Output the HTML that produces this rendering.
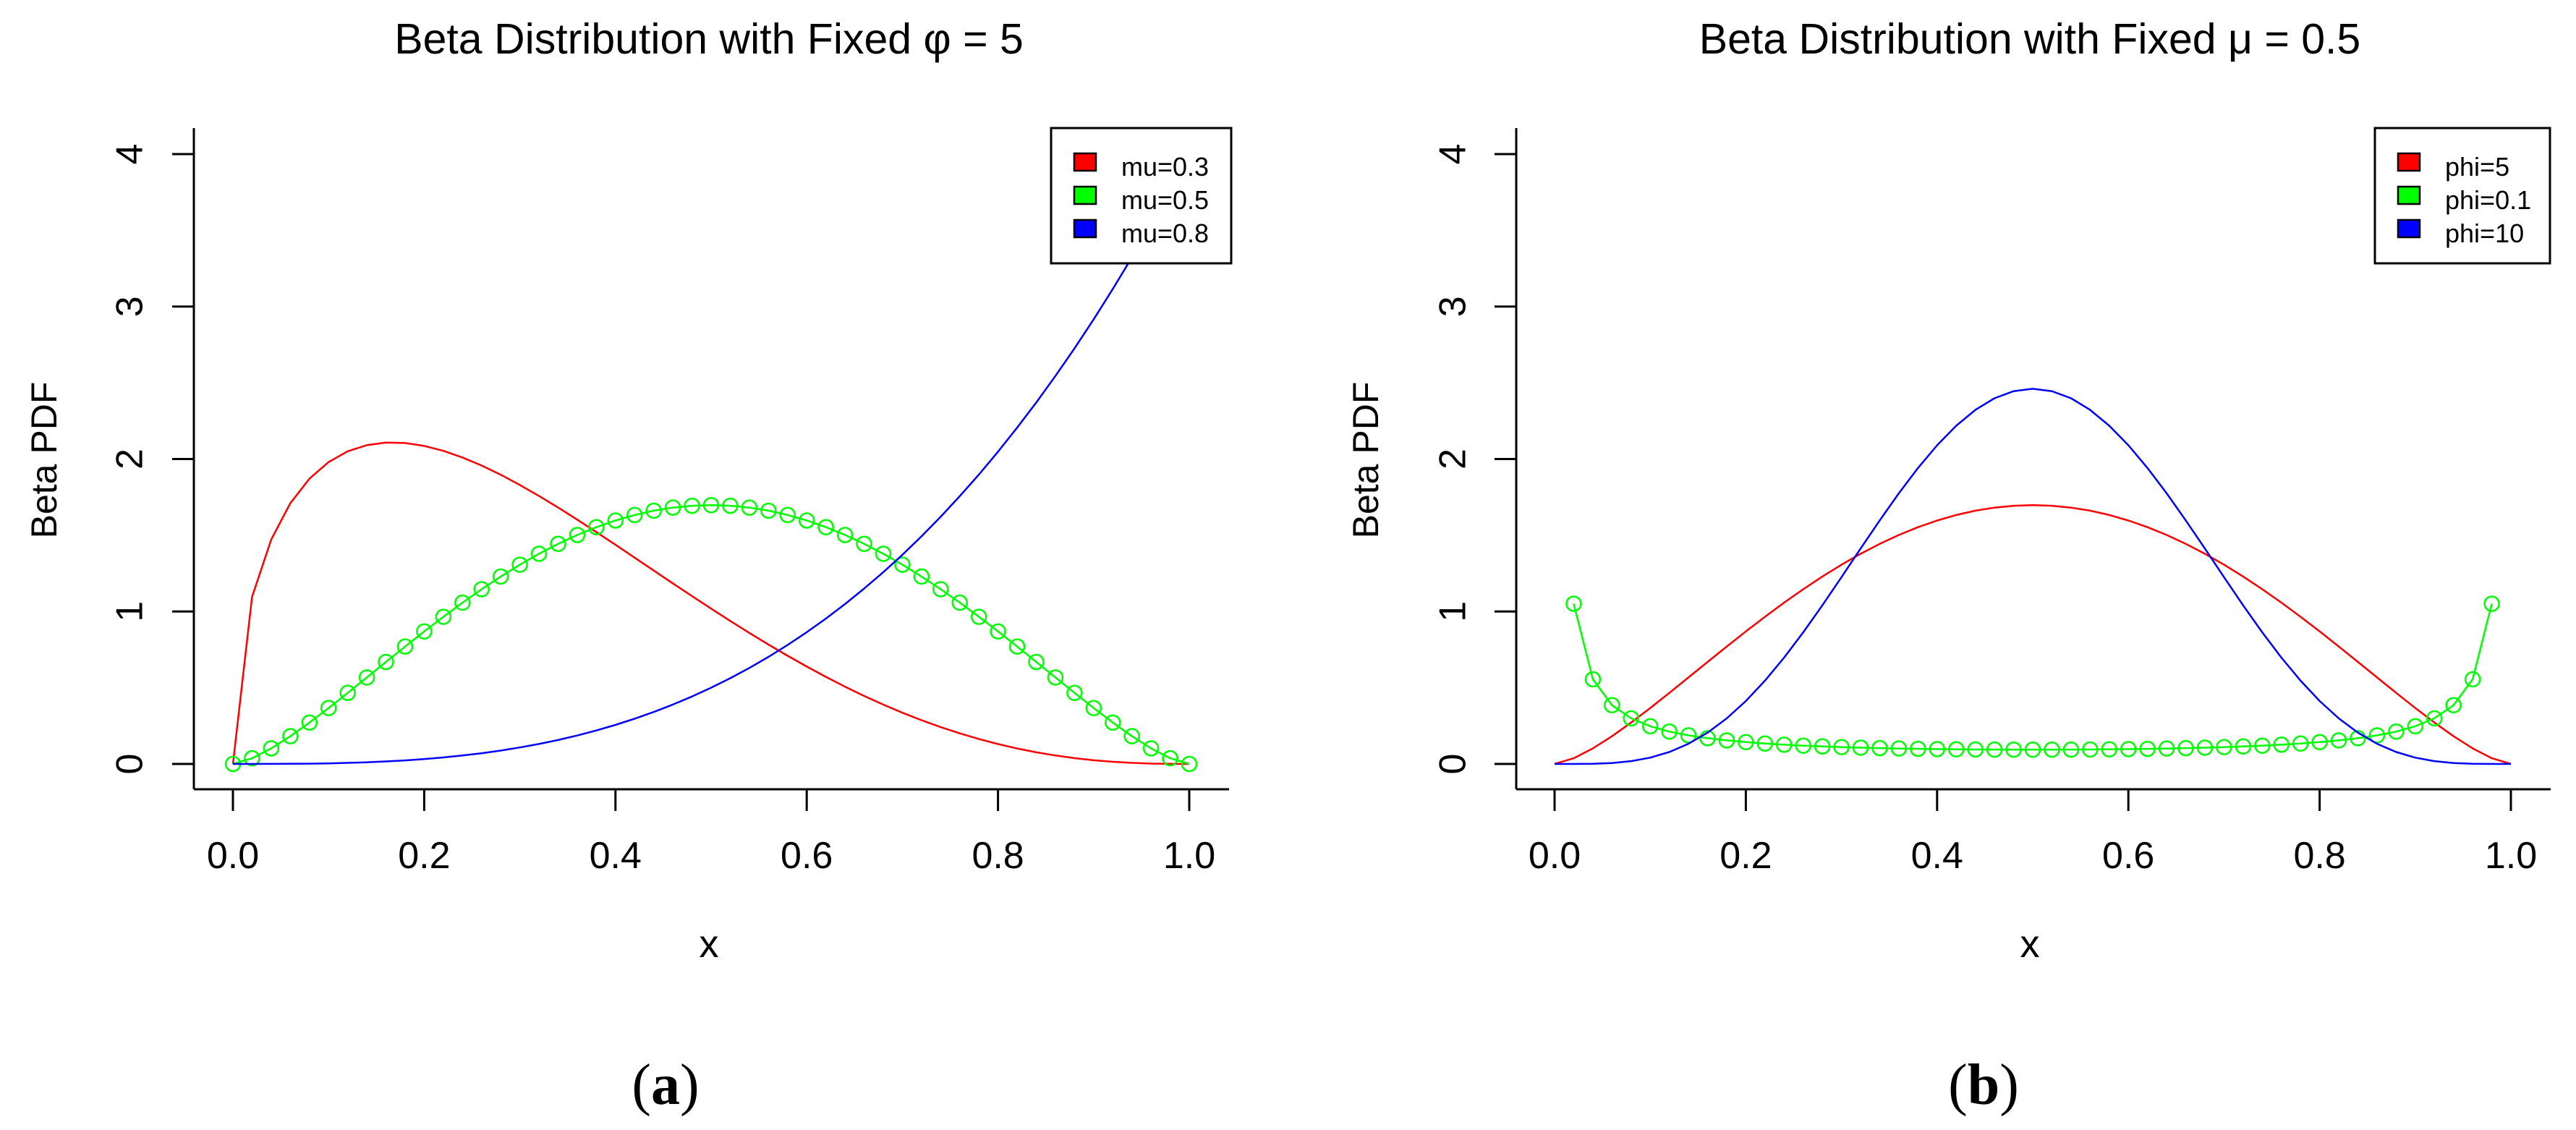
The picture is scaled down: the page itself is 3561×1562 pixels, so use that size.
<!DOCTYPE html>
<html><head><meta charset="utf-8"><style>
html,body{margin:0;padding:0;background:#fff;}
svg text{font-family:"Liberation Sans",Arial,sans-serif;}
</style></head><body>
<svg id="fig" width="3561" height="1557" viewBox="0 0 3561 1557" xmlns="http://www.w3.org/2000/svg">
<rect width="3561" height="1557" fill="#fff"/>
</svg>
<script>
const xs = [0,0.02,0.04,0.06,0.08,0.1,0.12,0.14,0.16,0.18,0.2,0.22,0.24,0.26,0.28,0.3,0.32,0.34,0.36,0.38,0.4,0.42,0.44,0.46,0.48,0.5,0.52,0.54,0.56,0.58,0.6,0.62,0.64,0.66,0.68,0.7,0.72,0.74,0.76,0.78,0.8,0.82,0.84,0.86,0.88,0.9,0.92,0.94,0.96,0.98,1];
// panel (a): phi = 5
const muRed = [0,1.0957,1.4717,1.7101,1.8712,1.9802,2.0507,2.0913,2.1080,2.1051,2.0861,2.0538,2.0102,1.9574,1.8968,1.8298,1.7577,1.6815,1.6022,1.5205,1.4372,1.3531,1.2685,1.1843,1.1009,1.0186,0.9380,0.8594,0.7831,0.7095,0.6387,0.5712,0.5069,0.4462,0.3893,0.3361,0.2869,0.2416,0.2005,0.1634,0.1304,0.1014,0.0765,0.0554,0.0381,0.0244,0.0142,0.0070,0.0026,0.0005,0];
const muGreen = [0,0.0373,0.1022,0.1819,0.2712,0.3667,0.4660,0.5673,0.6691,0.7701,0.8691,0.9653,1.0579,1.1461,1.2292,1.3069,1.3785,1.4436,1.5018,1.5530,1.5967,1.6327,1.6610,1.6812,1.6934,1.6975,1.6934,1.6812,1.6610,1.6327,1.5967,1.5530,1.5018,1.4436,1.3785,1.3069,1.2292,1.1461,1.0579,0.9653,0.8691,0.7701,0.6691,0.5673,0.4660,0.3667,0.2712,0.1819,0.1022,0.0373,0];
const muBlue = [0,0.000032,0.000256,0.000864,0.002048,0.004,0.006912,0.010976,0.016384,0.023328,0.032,0.042592,0.055296,0.070304,0.087808,0.108,0.131072,0.157216,0.186624,0.219488,0.256,0.296352,0.340736,0.389344,0.442368,0.5,0.562432,0.629856,0.702464,0.780448,0.864,0.953312,1.048576,1.149984,1.257728,1.372,1.492992,1.620896,1.755904,1.898208,2.048,2.205472,2.370816,2.544224,2.725888,2.916,3.114752,3.322336,3.538944,3.764768,4];
// panel (b): mu = 0.5
const phiRed = [0,0.0373,0.1022,0.1819,0.2712,0.3667,0.4660,0.5673,0.6691,0.7701,0.8691,0.9653,1.0579,1.1461,1.2292,1.3069,1.3785,1.4436,1.5018,1.5530,1.5967,1.6327,1.6610,1.6812,1.6934,1.6975,1.6934,1.6812,1.6610,1.6327,1.5967,1.5530,1.5018,1.4436,1.3785,1.3069,1.2292,1.1461,1.0579,0.9653,0.8691,0.7701,0.6691,0.5673,0.4660,0.3667,0.2712,0.1819,0.1022,0.0373,0];
const phiGreen = [null,1.051,0.5554,0.3855,0.2992,0.2472,0.2123,0.1875,0.1689,0.1545,0.1431,0.1339,0.1264,0.1201,0.1149,0.1105,0.1069,0.1038,0.1012,0.0991,0.0974,0.0960,0.0950,0.0942,0.0938,0.0937,0.0938,0.0942,0.0950,0.0960,0.0974,0.0991,0.1012,0.1038,0.1069,0.1105,0.1149,0.1201,0.1264,0.1339,0.1431,0.1545,0.1689,0.1875,0.2123,0.2472,0.2992,0.3855,0.5554,1.051,null];
const phiBlue = [0,0.0001,0.00137,0.00637,0.01849,0.04133,0.07834,0.13239,0.20556,0.29901,0.41288,0.54627,0.69733,0.86330,1.04065,1.22523,1.41246,1.59747,1.77530,1.94107,2.09019,2.21845,2.32222,2.39854,2.44523,2.46094,2.44523,2.39854,2.32222,2.21845,2.09019,1.94107,1.77530,1.59747,1.41246,1.22523,1.04065,0.86330,0.69733,0.54627,0.41288,0.29901,0.20556,0.13239,0.07834,0.04133,0.01849,0.00637,0.00137,0.0001,0];
const xTicks = [0,0.2,0.4,0.6,0.8,1];
const xTickLabels = ["0.0","0.2","0.4","0.6","0.8","1.0"];
const yTicks = [0,1,2,3,4];
const legendA = ["mu=0.3","mu=0.5","mu=0.8"];
const legendB = ["phi=5","phi=0.1","phi=10"];

const NS = "http://www.w3.org/2000/svg";
const svg = document.getElementById('fig');
function mk(tag, attrs, parent, text){
  const e = document.createElementNS(NS, tag);
  for (const k in attrs) e.setAttribute(k, attrs[k]);
  if (text !== undefined) e.textContent = text;
  (parent || svg).appendChild(e);
  return e;
}
function panel(o){
  const g = mk('g', {});
  
  
  const sx = v => o.x0 + v * (o.x1 - o.x0);
  const sy = v => o.y0 - v * (o.y0 - o.y4) / 4;
  const t = mk('text', {x:o.titleX, y:74, 'font-size':59, 'text-anchor':'middle', fill:'#000'}, g);
  
  
  t.innerHTML = o.title;
  const ya = mk('line', {x1:o.axL, y1:177, x2:o.axL, y2:1091, stroke:'#000', 'stroke-width':3}, g);
  
  
  const xa = mk('line', {x1:o.axL, y1:1091, x2:o.axR, y2:1091, stroke:'#000', 'stroke-width':3}, g);
  
  
  xTicks.forEach((v,i) => {
    const tk = mk('line', {x1:sx(v), y1:1091, x2:sx(v), y2:1121, stroke:'#000', 'stroke-width':3}, g);
    
    
    const tl = mk('text', {x:sx(v), y:1200, 'font-size':52, 'text-anchor':'middle', fill:'#000'}, g, xTickLabels[i]);
    
    
  });
  yTicks.forEach(v => {
    const tk = mk('line', {x1:o.axL - 30, y1:sy(v), x2:o.axL, y2:sy(v), stroke:'#000', 'stroke-width':3}, g);
    
    
    const tl = mk('text', {x:o.yLabX, y:sy(v), 'font-size':52, 'text-anchor':'middle', fill:'#000', transform:`rotate(-90 ${o.yLabX} ${sy(v)})`, dy:'0.36em'}, g, String(v));
    
    
  });
  const xl = mk('text', {x:o.titleX, y:1323, 'font-size':54, 'text-anchor':'middle', fill:'#000'}, g, 'x');
  
  
  const ylab = mk('text', {x:o.yTitleX, y:636, 'font-size':50, 'text-anchor':'middle', fill:'#000', transform:`rotate(-90 ${o.yTitleX} 636)`, dy:'0.36em'}, g, 'Beta PDF');
  
  
  o.series.forEach(s => {
    let d = '', pen = false;
    s.vals.forEach((v,i) => {
      if (v === null) { pen = false; return; }
      d += (pen ? 'L' : 'M') + sx(xs[i]).toFixed(1) + ' ' + sy(v).toFixed(1);
      pen = true;
    });
    const p = mk('path', {d:d, fill:'none', stroke:s.color, 'stroke-width':2.5, 'stroke-linejoin':'round'}, g);
    
    
    if (s.points) {
      s.vals.forEach((v,i) => {
        if (v === null) return;
        const c = mk('circle', {cx:sx(xs[i]), cy:sy(v), r:10, fill:'none', stroke:s.color, 'stroke-width':2.5}, g);
        
        
      });
    }
  });
  const lg = mk('g', {}, g);
  
  
  mk('rect', {x:o.lgX, y:177, width:o.lgW, height:187, fill:'#fff', stroke:'#000', 'stroke-width':3}, lg);
  o.legend.forEach((lab,i) => {
    const row = mk('g', {}, lg);
    
    
    mk('rect', {x:o.lgX + 32, y:212 + i*46, width:30, height:24, fill:o.series[i].color, stroke:'#000', 'stroke-width':2.5}, row);
    mk('text', {x:o.lgX + 97, y:243 + i*46, 'font-size':36, fill:'#000'}, row, lab);
  });
  const cap = mk('text', {x:o.capX, y:1526, 'font-size':80, 'text-anchor':'middle', fill:'#000', style:'font-family:"Liberation Serif",serif'}, g);
  
  
  cap.innerHTML = '(<tspan font-weight="bold">' + o.cap + '</tspan>)';
}
panel({name:'panel-a', x0:322, x1:1644, y0:1056, y4:213, axL:268, axR:1699, yLabX:178, yTitleX:60, titleX:980,
  title:'Beta Distribution with Fixed \u03C6 = 5', lgX:1453, lgW:249, capX:920, cap:'a', legend:legendA,
  series:[{name:'mu-0.3', vals:muRed, color:'#ff0000'},{name:'mu-0.5', vals:muGreen, color:'#00ff00', points:true},{name:'mu-0.8', vals:muBlue, color:'#0000ff'}]});
panel({name:'panel-b', x0:2149, x1:3471, y0:1056, y4:213, axL:2096, axR:3526, yLabX:2007, yTitleX:1887, titleX:2806,
  title:'Beta Distribution with Fixed \u03BC = 0.5', lgX:3283, lgW:242, capX:2742, cap:'b', legend:legendB,
  series:[{name:'phi-5', vals:phiRed, color:'#ff0000'},{name:'phi-0.1', vals:phiGreen, color:'#00ff00', points:true},{name:'phi-10', vals:phiBlue, color:'#0000ff'}]});
</script>
</body></html>
